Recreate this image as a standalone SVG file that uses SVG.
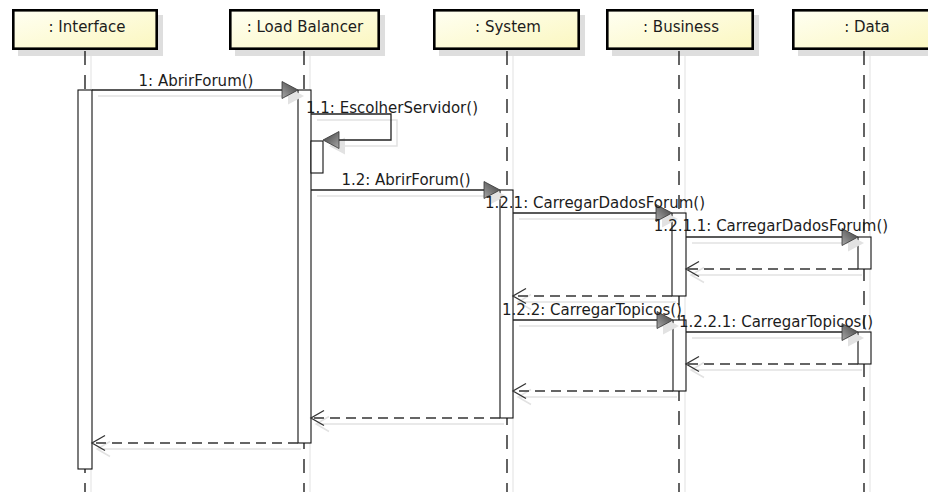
<svg xmlns="http://www.w3.org/2000/svg" width="928" height="492" viewBox="0 0 928 492">
  <defs>
    <linearGradient id="headFill" x1="0" y1="0" x2="1" y2="1">
      <stop offset="0" stop-color="#fffff2"/>
      <stop offset="1" stop-color="#fbf7c0"/>
    </linearGradient>
    <linearGradient id="tipFillR" x1="0" y1="1" x2="1" y2="0">
      <stop offset="0" stop-color="#a8a8a8"/>
      <stop offset="1" stop-color="#3a3a3a"/>
    </linearGradient>
    <linearGradient id="tipFillL" x1="1" y1="1" x2="0" y2="0">
      <stop offset="0" stop-color="#a8a8a8"/>
      <stop offset="1" stop-color="#3a3a3a"/>
    </linearGradient>
    <!-- filled call arrowheads, tip at origin -->
    <polygon id="callR" points="-16,-8.5 0,0 -16,8.5" fill="url(#tipFillR)" stroke="#333" stroke-width="0.8"/>
    <polygon id="callL" points="16,-8.5 0,0 16,8.5" fill="url(#tipFillL)" stroke="#333" stroke-width="0.8"/>
    <polygon id="callRShadow" points="-16,-8.5 0,0 -16,8.5" fill="#e2e2e2"/>
    <polygon id="callLShadow" points="16,-8.5 0,0 16,8.5" fill="#e2e2e2"/>
    <!-- open reply arrowheads, tip at origin, pointing left -->
    <path id="replyL" d="M13,-7.5 L0,0 L13,7.5" fill="none" stroke="#333" stroke-width="1.3"/>
    <path id="replyLShadow" d="M13,-7.5 L0,0 L13,7.5" fill="none" stroke="#e2e2e2" stroke-width="1.5"/>
  </defs>
  <style>
    .head { fill: url(#headFill); stroke: #000; stroke-width: 2.6; }
    .headShadow { fill: #dedede; }
    .life { stroke: #111; stroke-width: 1.3; stroke-dasharray: 14 10; fill: none; }
    .lifeShadow { stroke: #e6e6e6; stroke-width: 1.2; fill: none; }
    .act { fill: #fff; stroke: #111; stroke-width: 1.1; }
    .msg { stroke: #222; stroke-width: 1.3; fill: none; }
    .reply { stroke: #333; stroke-width: 1.3; stroke-dasharray: 10 6; fill: none; }
    .shadow { stroke: #e2e2e2; stroke-width: 1.5; fill: none; }
    text { font-family: "DejaVu Sans", "Liberation Sans", sans-serif; font-size: 15px; fill: #1c1c1c; }
    .mid { text-anchor: middle; }
  </style>

  <rect width="928" height="492" fill="#fff"/>

  <!-- lifeline shadows -->
  <g id="lifeline-shadows">
    <line class="lifeShadow" x1="91" y1="56" x2="91" y2="492"/>
    <line class="lifeShadow" x1="310" y1="56" x2="310" y2="492"/>
    <line class="lifeShadow" x1="513" y1="56" x2="513" y2="492"/>
    <line class="lifeShadow" x1="685" y1="56" x2="685" y2="492"/>
    <line class="lifeShadow" x1="870" y1="56" x2="870" y2="492"/>
  </g>

  <!-- participants -->
  <g id="interface">
    <rect class="headShadow" x="18" y="15" width="145" height="41"/>
    <rect class="head" x="13.3" y="10.3" width="143.4" height="38.4"/>
    <text class="mid" x="87" y="32">: Interface</text>
    <line class="life" x1="85" y1="51" x2="85" y2="492"/>
  </g>
  <g id="load-balancer">
    <rect class="headShadow" x="235" y="15" width="150" height="41"/>
    <rect class="head" x="230.3" y="10.3" width="148.4" height="38.4"/>
    <text class="mid" x="305" y="32">: Load Balancer</text>
    <line class="life" x1="304" y1="51" x2="304" y2="492"/>
  </g>
  <g id="system">
    <rect class="headShadow" x="439" y="15" width="146" height="41"/>
    <rect class="head" x="434.3" y="10.3" width="144.4" height="38.4"/>
    <text class="mid" x="508" y="32">: System</text>
    <line class="life" x1="507" y1="51" x2="507" y2="492"/>
  </g>
  <g id="business">
    <rect class="headShadow" x="612" y="15" width="147" height="41"/>
    <rect class="head" x="607.3" y="10.3" width="145.4" height="38.4"/>
    <text class="mid" x="681" y="32">: Business</text>
    <line class="life" x1="679" y1="51" x2="679" y2="492"/>
  </g>
  <g id="data">
    <rect class="headShadow" x="798" y="15" width="146" height="41"/>
    <rect class="head" x="793.3" y="10.3" width="144.4" height="38.4"/>
    <text class="mid" x="867" y="32">: Data</text>
    <line class="life" x1="864" y1="51" x2="864" y2="492"/>
  </g>

  <!-- activation bars -->
  <g id="activations">
    <rect class="act" x="78" y="90" width="14" height="379"/>
    <rect class="act" x="298" y="90" width="13" height="353"/>
    <rect class="act" x="311" y="141" width="12" height="32"/>
    <rect class="act" x="500" y="190" width="13" height="228"/>
    <rect class="act" x="672" y="213" width="14" height="83"/>
    <rect class="act" x="673" y="320" width="13" height="71"/>
    <rect class="act" x="858" y="237" width="13" height="32"/>
    <rect class="act" x="858" y="332" width="13" height="32"/>
  </g>

  <!-- messages -->
  <g id="connectors">
    <!-- 1: AbrirForum() -->
    <line class="shadow" x1="98" y1="96" x2="292" y2="96"/>
    <use href="#callRShadow" x="304" y="96"/>
    <line class="msg" x1="92" y1="90" x2="284" y2="90"/>
    <use href="#callR" x="298" y="90"/>

    <!-- 1.1: EscolherServidor() (self call) -->
    <polyline class="shadow" points="317,120 397,120 397,146 340,146"/>
    <use href="#callLShadow" x="329" y="146"/>
    <polyline class="msg" points="311,114 391,114 391,140 339,140"/>
    <use href="#callL" x="323" y="140"/>

    <!-- 1.2: AbrirForum() -->
    <line class="shadow" x1="317" y1="196" x2="494" y2="196"/>
    <use href="#callRShadow" x="506" y="196"/>
    <line class="msg" x1="311" y1="190" x2="486" y2="190"/>
    <use href="#callR" x="500" y="190"/>

    <!-- 1.2.1: CarregarDadosForum() -->
    <line class="shadow" x1="519" y1="219" x2="666" y2="219"/>
    <use href="#callRShadow" x="678" y="219"/>
    <line class="msg" x1="513" y1="213" x2="658" y2="213"/>
    <use href="#callR" x="672" y="213"/>

    <!-- 1.2.1.1: CarregarDadosForum() -->
    <line class="shadow" x1="692" y1="243" x2="852" y2="243"/>
    <use href="#callRShadow" x="864" y="243"/>
    <line class="msg" x1="686" y1="237" x2="844" y2="237"/>
    <use href="#callR" x="858" y="237"/>

    <!-- reply Data -> Business -->
    <line class="shadow" x1="692" y1="275" x2="862" y2="275"/>
    <use href="#replyLShadow" x="691" y="275"/>
    <line class="reply" x1="858" y1="269" x2="687" y2="269"/>
    <use href="#replyL" x="686" y="269"/>

    <!-- reply Business -> System -->
    <line class="shadow" x1="519" y1="302" x2="676" y2="302"/>
    <use href="#replyLShadow" x="518" y="302"/>
    <line class="reply" x1="672" y1="296" x2="514" y2="296"/>
    <use href="#replyL" x="513" y="296"/>

    <!-- 1.2.2: CarregarTopicos() -->
    <line class="shadow" x1="519" y1="326" x2="667" y2="326"/>
    <use href="#callRShadow" x="679" y="326"/>
    <line class="msg" x1="513" y1="320" x2="659" y2="320"/>
    <use href="#callR" x="673" y="320"/>

    <!-- 1.2.2.1: CarregarTopicos() -->
    <line class="shadow" x1="692" y1="338" x2="852" y2="338"/>
    <use href="#callRShadow" x="864" y="338"/>
    <line class="msg" x1="686" y1="332" x2="844" y2="332"/>
    <use href="#callR" x="858" y="332"/>

    <!-- reply Data -> Business -->
    <line class="shadow" x1="692" y1="370" x2="862" y2="370"/>
    <use href="#replyLShadow" x="691" y="370"/>
    <line class="reply" x1="858" y1="364" x2="687" y2="364"/>
    <use href="#replyL" x="686" y="364"/>

    <!-- reply Business -> System -->
    <line class="shadow" x1="519" y1="397" x2="677" y2="397"/>
    <use href="#replyLShadow" x="518" y="397"/>
    <line class="reply" x1="673" y1="391" x2="514" y2="391"/>
    <use href="#replyL" x="513" y="391"/>

    <!-- reply System -> Load Balancer -->
    <line class="shadow" x1="317" y1="424" x2="504" y2="424"/>
    <use href="#replyLShadow" x="316" y="424"/>
    <line class="reply" x1="500" y1="418" x2="312" y2="418"/>
    <use href="#replyL" x="311" y="418"/>

    <!-- reply Load Balancer -> Interface -->
    <line class="shadow" x1="98" y1="449" x2="301" y2="449"/>
    <use href="#replyLShadow" x="97" y="449"/>
    <line class="reply" x1="298" y1="443" x2="93" y2="443"/>
    <use href="#replyL" x="92" y="443"/>
  </g>

  <!-- message labels -->
  <g id="labels">
    <text class="mid" x="196" y="86">1: AbrirForum()</text>
    <text class="mid" x="392" y="113">1.1: EscolherServidor()</text>
    <text class="mid" x="406" y="185">1.2: AbrirForum()</text>
    <text class="mid" x="595" y="208">1.2.1: CarregarDadosForum()</text>
    <text class="mid" x="771" y="231">1.2.1.1: CarregarDadosForum()</text>
    <text class="mid" x="592" y="315">1.2.2: CarregarTopicos()</text>
    <text class="mid" x="776" y="327">1.2.2.1: CarregarTopicos()</text>
  </g>
</svg>
